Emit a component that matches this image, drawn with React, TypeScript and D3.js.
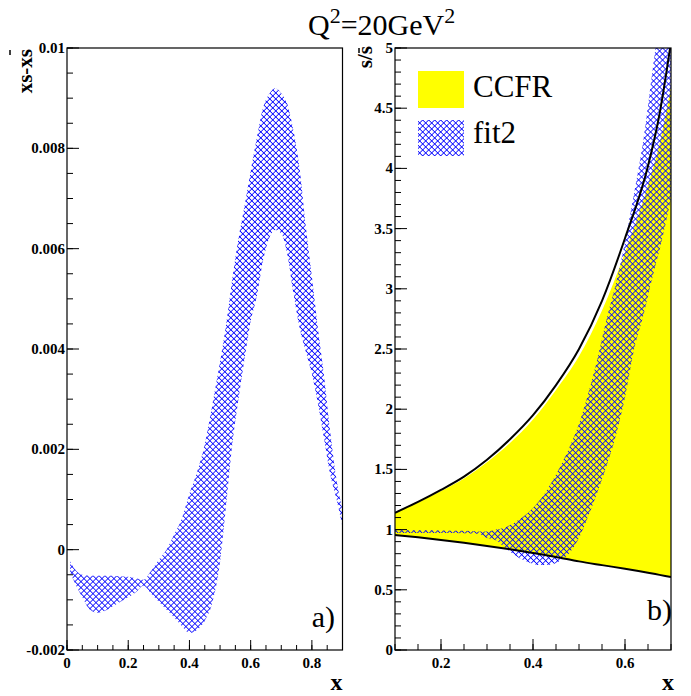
import React from 'react';
import * as d3 from 'd3';

// ---- panel a) : xs - xs(bar), fit2 band (values in units of 1e-3)
const aX = [0.01, 0.03, 0.05, 0.075, 0.10, 0.125, 0.15, 0.175, 0.20, 0.225, 0.25, 0.275, 0.30, 0.325, 0.35, 0.375, 0.40, 0.425, 0.45, 0.475, 0.50, 0.52, 0.54, 0.56, 0.58, 0.60, 0.62, 0.64, 0.66, 0.68, 0.70, 0.72, 0.74, 0.76, 0.78, 0.80, 0.82, 0.84, 0.86, 0.88, 0.90];
const aHi = [-0.23, -0.42, -0.5, -0.52, -0.52, -0.52, -0.52, -0.53, -0.54, -0.57, -0.6, -0.42, -0.2, 0.0, 0.3, 0.62, 1.12, 1.55, 2.1, 2.9, 3.75, 4.5, 5.4, 6.2, 6.85, 7.55, 8.2, 8.8, 9.08, 9.2, 9.1, 8.88, 8.35, 7.6, 6.45, 5.44, 4.4, 3.45, 2.35, 1.42, 0.8];
const aLo = [-0.45, -0.72, -0.95, -1.2, -1.26, -1.22, -1.13, -1.04, -0.95, -0.85, -0.72, -0.88, -1.04, -1.2, -1.35, -1.52, -1.66, -1.6, -1.42, -1.05, -0.25, 0.9, 2.1, 2.99, 3.8, 4.55, 5.05, 5.75, 6.2, 6.37, 6.3, 5.88, 5.1, 4.42, 3.95, 3.5, 2.9, 2.2, 1.5, 1.02, 0.45];

// ---- panel b) : s/s(bar), CCFR band and fit2 band
const ccfrX = [0.10, 0.15, 0.20, 0.25, 0.30, 0.35, 0.40, 0.45, 0.50, 0.55, 0.60, 0.65, 0.675, 0.70];
const ccfrUpperLine = [1.14, 1.23, 1.33, 1.44, 1.58, 1.75, 1.95, 2.2, 2.5, 2.9, 3.42, 4.02, 4.45, 5.05];
const ccfrUpperFill = [1.14, 1.225, 1.32, 1.425, 1.56, 1.72, 1.915, 2.16, 2.44, 2.82, 3.3, 3.86, 4.2, 4.68];
const ccfrLower = [0.955, 0.936, 0.914, 0.89, 0.864, 0.836, 0.806, 0.773, 0.736, 0.705, 0.675, 0.642, 0.624, 0.606];

const fitX = [0.10, 0.15, 0.20, 0.25, 0.28, 0.30, 0.32, 0.34, 0.36, 0.38, 0.40, 0.42, 0.44, 0.46, 0.48, 0.50, 0.52, 0.54, 0.56, 0.58, 0.60, 0.62, 0.64, 0.66, 0.68, 0.70];
const fitHi = [0.995, 0.995, 0.993, 0.99, 0.985, 0.985, 1.0, 1.02, 1.06, 1.11, 1.18, 1.27, 1.39, 1.53, 1.69, 1.88, 2.13, 2.42, 2.75, 3.04, 3.39, 3.8, 4.24, 4.82, 5.4, 6.0];
const fitLo = [0.972, 0.972, 0.972, 0.97, 0.965, 0.93, 0.91, 0.845, 0.79, 0.745, 0.715, 0.705, 0.71, 0.745, 0.81, 0.93, 1.11, 1.31, 1.53, 1.78, 2.1, 2.5, 2.78, 3.1, 3.4, 3.75];

// ---- ticks
const aYTicks = [-0.002, 0, 0.002, 0.004, 0.006, 0.008, 0.01];
const aYLabels = ['-0.002', '0', '0.002', '0.004', '0.006', '0.008', '0.01'];
const aXTicks = [0, 0.2, 0.4, 0.6, 0.8];
const aXLabels = ['0', '0.2', '0.4', '0.6', '0.8'];
const bYTicks = [0, 0.5, 1, 1.5, 2, 2.5, 3, 3.5, 4, 4.5, 5];
const bYLabels = ['0', '0.5', '1', '1.5', '2', '2.5', '3', '3.5', '4', '4.5', '5'];
const bXTicks = [0.2, 0.4, 0.6];
const bXLabels = ['0.2', '0.4', '0.6'];

const W = 691;
const H = 696;
const TOP = 48;
const BOTTOM = 650;
const serif = 'Liberation Serif';
const BLUE = '#0000ff';
const YELLOW = '#ffff00';

const aPanel = { left: 67, right: 342.5 };
const bPanel = { left: 395, right: 671 };

export default function App() {
  const ax = d3.scaleLinear().domain([0, 0.9]).range([aPanel.left, aPanel.right]);
  const ay = d3.scaleLinear().domain([-0.002, 0.01]).range([BOTTOM, TOP]);
  const bx = d3.scaleLinear().domain([0.1, 0.7]).range([bPanel.left, bPanel.right]);
  const by = d3.scaleLinear().domain([0, 5]).range([BOTTOM, TOP]);

  const aArea = d3.area<number>()
    .x((d, i) => ax(aX[i]))
    .y0((d, i) => ay(aLo[i] * 1e-3))
    .y1((d, i) => ay(aHi[i] * 1e-3))
    .curve(d3.curveMonotoneX);

  const yellowArea = d3.area<number>()
    .x((d, i) => bx(ccfrX[i]))
    .y0((d, i) => by(ccfrLower[i]))
    .y1((d, i) => by(ccfrUpperFill[i]))
    .curve(d3.curveMonotoneX);

  const fitArea = d3.area<number>()
    .x((d, i) => bx(fitX[i]))
    .y0((d, i) => by(fitLo[i]))
    .y1((d, i) => by(fitHi[i]))
    .curve(d3.curveMonotoneX);

  const bLine = (vals: number[]) => d3.line<number>()
    .x((d, i) => bx(ccfrX[i]))
    .y((d) => by(d))
    .curve(d3.curveMonotoneX)(vals) || '';

  const aYMinor = d3.range(-0.002, 0.01001, 0.0005);
  const aXMinor = d3.range(0, 0.9001, 0.05);
  const bYMinor = d3.range(0, 5.001, 0.1);
  const bXMinor = d3.range(0.1, 0.7001, 0.05);

  return (
    <svg width={W} height={H} style={{ position: 'absolute', left: 0, top: 0, background: '#fff' }}>
      <defs>
        <pattern id="hatch" patternUnits="userSpaceOnUse" width={4.24} height={4.24} patternTransform="rotate(45)">
          <path d="M0,2.12 H4.24 M2.12,0 V4.24" stroke={BLUE} strokeWidth={0.8} fill="none" />
        </pattern>
        <clipPath id="clipA">
          <rect x={aPanel.left} y={TOP} width={aPanel.right - aPanel.left} height={BOTTOM - TOP} />
        </clipPath>
        <clipPath id="clipB">
          <rect x={bPanel.left} y={TOP} width={bPanel.right - bPanel.left} height={BOTTOM - TOP} />
        </clipPath>
      </defs>
      <rect x={0} y={0} width={W} height={H} fill="#fff" />

      {/* title */}
      <text x={308} y={35} fontFamily={serif} fontSize={30} fill="#000">
        Q<tspan fontSize={22} dy={-12}>2</tspan><tspan dy={12}>=20GeV</tspan><tspan fontSize={22} dy={-12}>2</tspan>
      </text>

      {/* ---------- panel a ---------- */}
      <g clipPath="url(#clipA)">
        <path d={aArea(aX) || ''} fill="url(#hatch)" />
      </g>
      <rect x={aPanel.left} y={TOP} width={aPanel.right - aPanel.left} height={BOTTOM - TOP} fill="none" stroke="#000" strokeWidth={1.2} />
      {aYMinor.map((v, i) => (
        <line key={'aym' + i} x1={aPanel.left} x2={aPanel.left + 6} y1={ay(v)} y2={ay(v)} stroke="#000" />
      ))}
      {aYTicks.map((v, i) => (
        <g key={'ayt' + i}>
          <line x1={aPanel.left} x2={aPanel.left + 12} y1={ay(v)} y2={ay(v)} stroke="#000" />
          <text x={aPanel.left - 2} y={ay(v) + 5} textAnchor="end" fontFamily={serif} fontWeight="bold" fontSize={15}>{aYLabels[i]}</text>
        </g>
      ))}
      {aXMinor.map((v, i) => (
        <line key={'axm' + i} x1={ax(v)} x2={ax(v)} y1={BOTTOM} y2={BOTTOM - 5} stroke="#000" />
      ))}
      {aXTicks.map((v, i) => (
        <g key={'axt' + i}>
          <line x1={ax(v)} x2={ax(v)} y1={BOTTOM} y2={BOTTOM - 10} stroke="#000" />
          <text x={ax(v)} y={668} textAnchor="middle" fontFamily={serif} fontWeight="bold" fontSize={15}>{aXLabels[i]}</text>
        </g>
      ))}
      <text x={aPanel.right} y={690} textAnchor="end" fontFamily={serif} fontWeight="bold" fontSize={24}>x</text>
      <text transform={`translate(32,${TOP + 1}) rotate(-90)`} textAnchor="end" fontFamily={serif} fontWeight="bold" fontSize={21}>xs-xs</text>
      <line x1={10} x2={10} y1={50} y2={55} stroke="#000" strokeWidth={1.5} />
      <text x={335} y={627} textAnchor="end" fontFamily={serif} fontSize={30}>a)</text>

      {/* ---------- panel b ---------- */}
      <g clipPath="url(#clipB)">
        <path d={yellowArea(ccfrX) || ''} fill={YELLOW} />
        <path d={fitArea(fitX) || ''} fill="url(#hatch)" />
        <path d={bLine(ccfrUpperLine)} fill="none" stroke="#000" strokeWidth={2} />
        <path d={bLine(ccfrLower)} fill="none" stroke="#000" strokeWidth={2} />
      </g>
      <rect x={bPanel.left} y={TOP} width={bPanel.right - bPanel.left} height={BOTTOM - TOP} fill="none" stroke="#000" strokeWidth={1.2} />
      {bYMinor.map((v, i) => (
        <line key={'bym' + i} x1={bPanel.left} x2={bPanel.left + 6} y1={by(v)} y2={by(v)} stroke="#000" />
      ))}
      {bYTicks.map((v, i) => (
        <g key={'byt' + i}>
          <line x1={bPanel.left} x2={bPanel.left + 12} y1={by(v)} y2={by(v)} stroke="#000" />
          <text x={bPanel.left - 2} y={by(v) + 5} textAnchor="end" fontFamily={serif} fontWeight="bold" fontSize={15}>{bYLabels[i]}</text>
        </g>
      ))}
      {bXMinor.map((v, i) => (
        <line key={'bxm' + i} x1={bx(v)} x2={bx(v)} y1={BOTTOM} y2={BOTTOM - 6} stroke="#000" />
      ))}
      {bXTicks.map((v, i) => (
        <g key={'bxt' + i}>
          <line x1={bx(v)} x2={bx(v)} y1={BOTTOM} y2={BOTTOM - 11} stroke="#000" />
          <text x={bx(v)} y={668} textAnchor="middle" fontFamily={serif} fontWeight="bold" fontSize={15}>{bXLabels[i]}</text>
        </g>
      ))}
      <text x={674} y={690} textAnchor="end" fontFamily={serif} fontWeight="bold" fontSize={24}>x</text>
      <text transform={`translate(372,${TOP - 2}) rotate(-90)`} textAnchor="end" fontFamily={serif} fontWeight="bold" fontSize={21}>s/s</text>
      <line x1={359} x2={359} y1={48} y2={53} stroke="#000" strokeWidth={1.5} />
      <text x={672} y={620} textAnchor="end" fontFamily={serif} fontSize={30}>b)</text>

      {/* legend */}
      <rect x={418} y={71} width={46} height={37} fill={YELLOW} />
      <rect x={418} y={120} width={46} height={36} fill="url(#hatch)" />
      <text x={473} y={97} fontFamily={serif} fontSize={31}>CCFR</text>
      <text x={473} y={143} fontFamily={serif} fontSize={31}>fit2</text>
    </svg>
  );
}
